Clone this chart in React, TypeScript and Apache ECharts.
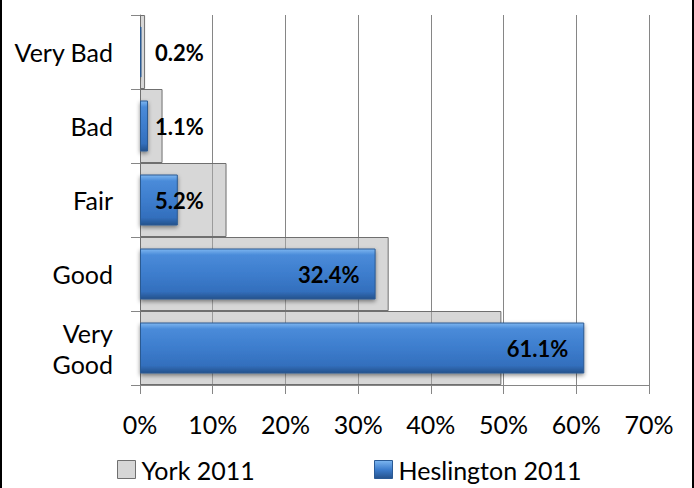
import React, { useEffect, useRef } from "react";
import * as echarts from "echarts";

const categories = ["Very Bad", "Bad", "Fair", "Good", "Very\nGood"];
const york2011 = [0.7, 3.1, 11.9, 34.2, 49.7];
const heslington2011 = [0.2, 1.1, 5.2, 32.4, 61.1];
const xTicks = [0, 10, 20, 30, 40, 50, 60, 70];

const FONT = "Lato, 'Open Sans', sans-serif";

export default function App() {
  const ref = useRef<HTMLDivElement>(null);
  useEffect(() => {
    if (!ref.current) return;
    const chart = echarts.init(ref.current, null, { renderer: "svg" });
    const blueGrad = new echarts.graphic.LinearGradient(0, 0, 0, 1, [
      { offset: 0, color: "#7db6f0" },
      { offset: 0.12, color: "#4a8bd9" },
      { offset: 0.5, color: "#3d7dcd" },
      { offset: 0.85, color: "#336fbd" },
      { offset: 1, color: "#25528c" },
    ]);
    const legendBlue = new echarts.graphic.LinearGradient(0, 0, 0, 1, [
      { offset: 0, color: "#7db6f0" },
      { offset: 0.5, color: "#3d7dcd" },
      { offset: 1, color: "#25528c" },
    ]);
    chart.setOption({
      animation: false,
      backgroundColor: "#ffffff",
      textStyle: { fontFamily: FONT },
      grid: { left: 140, right: 45, top: 15, bottom: 103, containLabel: false },
      legend: [
        {
          data: [{ name: "York 2011", itemStyle: { color: "#d6d6d6", borderColor: "#6f6f6f", borderWidth: 1 } }],
          left: 112,
          top: 452,
          itemWidth: 18,
          itemHeight: 18,
          icon: "rect",
          itemGap: 10,
          textStyle: { fontFamily: FONT, fontSize: 25, color: "#000", padding: [0, 0, 0, 1] },
        },
        {
          data: [{ name: "Heslington 2011", itemStyle: { color: legendBlue, borderColor: "#2a5a95", borderWidth: 1 } }],
          left: 369,
          top: 452,
          itemWidth: 18,
          itemHeight: 18,
          icon: "rect",
          textStyle: { fontFamily: FONT, fontSize: 25, color: "#000", padding: [0, 0, 0, 1] },
        },
      ],
      xAxis: {
        type: "value",
        min: xTicks[0],
        max: xTicks[xTicks.length - 1],
        interval: 10,
        axisLine: { show: true, lineStyle: { color: "#868686", width: 1 } },
        axisTick: { show: true, length: 9, lineStyle: { color: "#868686" } },
        splitLine: { show: true, lineStyle: { color: "#868686", width: 1 } },
        axisLabel: {
          formatter: "{value}%",
          fontFamily: FONT,
          fontSize: 25,
          color: "#000",
          margin: 26,
        },
      },
      yAxis: [
        {
          type: "category",
          data: categories,
          inverse: true,
          axisLine: { show: true, lineStyle: { color: "#868686", width: 1 } },
          axisTick: { show: true, length: 9, lineStyle: { color: "#868686" } },
          axisLabel: {
            fontFamily: FONT,
            fontSize: 25,
            color: "#000",
            margin: 27,
            lineHeight: 31,
          },
          splitLine: { show: false },
        },
        {
          type: "category",
          data: categories,
          inverse: true,
          show: false,
        },
      ],
      series: [
        {
          name: "York 2011",
          type: "bar",
          yAxisIndex: 0,
          barWidth: "100%",
          barCategoryGap: "0%",
          data: york2011,
          itemStyle: {
            color: "rgba(175,175,175,0.5)",
            borderColor: "#6f6f6f",
            borderWidth: 1,
          },
          z: 2,
        },
        {
          name: "Heslington 2011",
          type: "bar",
          yAxisIndex: 1,
          barWidth: 51,
          data: heslington2011.map((v) => ({
            value: v,
            label: v < 10 ? { position: "insideLeft", distance: 15 } : { position: "insideRight", distance: 16 },
          })),
          itemStyle: {
            color: blueGrad,
            borderColor: "#2c5a92",
            borderWidth: 1,
            shadowColor: "rgba(0,0,0,0.45)",
            shadowBlur: 4,
            shadowOffsetY: 2,
          },
          label: {
            show: true,
            fontFamily: FONT,
            fontWeight: "bold",
            fontSize: 22,
            color: "#000",
            formatter: (p: any) => Number(p.value).toFixed(1) + "%",
          },
          z: 3,
        },
      ],
      graphic: [
        { type: "rect", left: 0, top: 0, shape: { width: 2, height: 488 }, style: { fill: "#000" } },
        { type: "rect", right: 0, top: 0, shape: { width: 2, height: 488 }, style: { fill: "#000" } },
      ],
    });
    return () => chart.dispose();
  }, []);
  return <div ref={ref} style={{ width: 694, height: 488, position: "absolute", left: 0, top: 0 }} />;
}
